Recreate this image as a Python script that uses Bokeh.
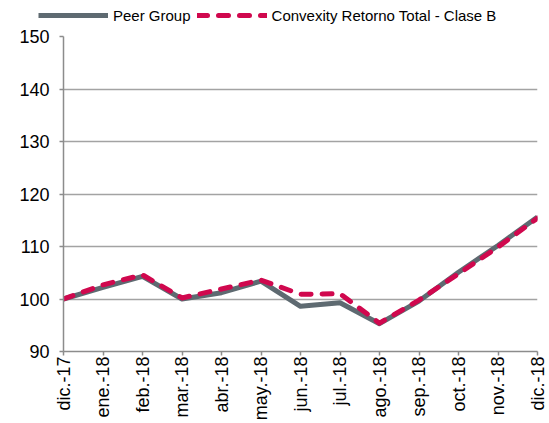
import math
from bokeh.plotting import figure
from bokeh.layouts import column
from bokeh.models import Range1d, FixedTicker, Legend, LegendItem
from bokeh.embed import file_html
from bokeh.resources import INLINE

months = ["dic.-17", "ene.-18", "feb.-18", "mar.-18", "abr.-18", "may.-18", "jun.-18",
          "jul.-18", "ago.-18", "sep.-18", "oct.-18", "nov.-18", "dic.-18"]
peer_group = [100, 102.2, 104.3, 100.0, 101.2, 103.4, 98.6, 99.3, 95.3, 99.6, 105.1, 110.2, 115.6]
convexity = [100, 102.7, 104.6, 100.2, 101.9, 103.6, 100.9, 101.0, 95.4, 99.8, 104.8, 109.9, 115.4]
y_ticks = [90, 100, 110, 120, 130, 140, 150]
series_names = ["Peer Group", "Convexity Retorno Total - Clase B"]

x = list(range(len(months)))
FONT = "Liberation Sans"
GRAY = "#5e6a71"
RED = "#d0084e"
LEG_H = 28

p = figure(width=549, height=423 - LEG_H, output_backend="svg", toolbar_location=None,
           x_range=Range1d(0, len(months) - 1), y_range=Range1d(90, 150),
           min_border_left=63, min_border_right=12, min_border_top=36 - LEG_H,
           min_border_bottom=10)
p.outline_line_color = None
p.background_fill_color = "white"
p.border_fill_color = "white"
p.frame_align = False

p.line(x, peer_group, line_color=GRAY, line_width=5, line_join="round")
p.line(x, convexity, line_color=RED, line_width=5, line_dash="10 11",
       line_cap="round", line_join="round")

p.xgrid.grid_line_color = None
p.ygrid.grid_line_color = "#a3a3a3"
p.ygrid.grid_line_width = 1.5

p.xaxis.ticker = FixedTicker(ticks=x)
p.xaxis.major_label_overrides = {i: m for i, m in enumerate(months)}
p.xaxis.major_label_orientation = math.pi / 2
p.xaxis.minor_tick_line_color = None
p.xaxis.major_tick_in = 0
p.xaxis.major_tick_out = 4
p.xaxis.major_label_standoff = 1

p.yaxis.ticker = FixedTicker(ticks=y_ticks)
p.yaxis.minor_tick_line_color = None
p.yaxis.major_tick_in = 0
p.yaxis.major_tick_out = 4
p.yaxis.major_label_standoff = 10

for ax in (p.xaxis, p.yaxis):
    ax.axis_line_color = "#8c8c8c"
    ax.axis_line_width = 1.5
    ax.major_tick_line_color = "#8c8c8c"
    ax.major_tick_line_width = 1.5
    ax.major_label_text_font = FONT
    ax.major_label_text_font_size = "18px"
    ax.major_label_text_color = "black"

# legend strip above the chart
lf = figure(width=549, height=LEG_H, output_backend="svg", toolbar_location=None,
            x_range=Range1d(0, 1), y_range=Range1d(0, 1),
            x_axis_location=None, y_axis_location=None,
            min_border_left=0, min_border_right=0, min_border_top=0, min_border_bottom=0)
lf.grid.visible = False
lf.outline_line_color = None
lf.frame_align = False
g1 = lf.line([-5, -4], [-5, -4], line_color=GRAY, line_width=5)
g2 = lf.line([-5, -4], [-5, -4], line_color=RED, line_width=5, line_dash="10 11",
             line_cap="round")
legend = Legend(items=[LegendItem(label=series_names[0], renderers=[g1]),
                       LegendItem(label=series_names[1], renderers=[g2])],
                orientation="horizontal", location=(38, 4),
                label_text_font=FONT, label_text_font_size="15px", label_text_color="black",
                glyph_width=70, glyph_height=18, label_height=18, label_standoff=5,
                spacing=6, padding=0, margin=0,
                border_line_color=None, background_fill_alpha=0)
lf.add_layout(legend, "center")

layout = column(lf, p, spacing=0)
open("out.html", "w").write(file_html(layout, INLINE))
